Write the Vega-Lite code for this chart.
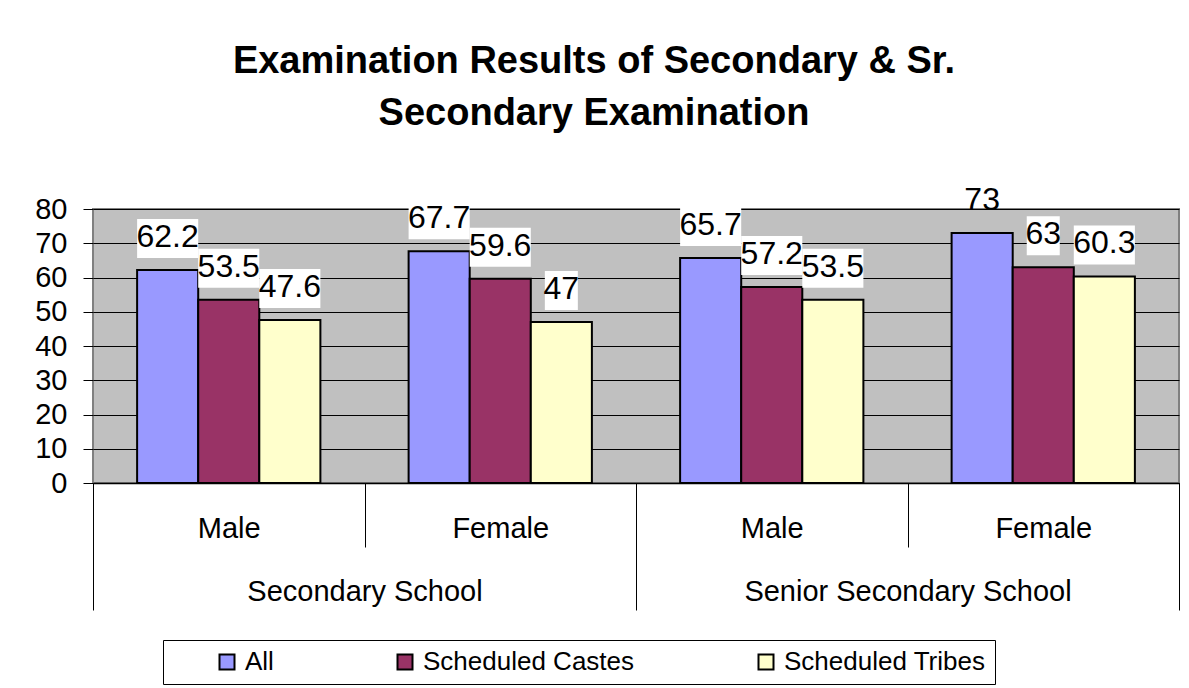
{
  "$schema": "https://vega.github.io/schema/vega-lite/v6.json",
  "width": 1086,
  "height": 274,
  "autosize": {"type": "none"},
  "padding": {"left": 93, "top": 209, "right": 10, "bottom": 205},
  "background": "white",
  "title": {
    "text": ["Examination Results of Secondary & Sr.", "Secondary Examination"],
    "fontSize": 38,
    "font": "Liberation Sans",
    "fontWeight": "bold",
    "color": "black",
    "anchor": "middle",
    "dx": -42,
    "lineHeight": 52,
    "offset": 13,
    "baseline": "bottom"
  },
  "config": {
    "font": "Liberation Sans",
    "view": {"fill": "#C0C0C0", "stroke": "#808080", "strokeWidth": 2}
  },
  "data": {
    "values": [
      {"school": "Secondary School", "gender": "Male", "cat": "Secondary School|Male", "series": "All", "value": 62.2},
      {"school": "Secondary School", "gender": "Male", "cat": "Secondary School|Male", "series": "Scheduled Castes", "value": 53.5},
      {"school": "Secondary School", "gender": "Male", "cat": "Secondary School|Male", "series": "Scheduled Tribes", "value": 47.6},
      {"school": "Secondary School", "gender": "Female", "cat": "Secondary School|Female", "series": "All", "value": 67.7},
      {"school": "Secondary School", "gender": "Female", "cat": "Secondary School|Female", "series": "Scheduled Castes", "value": 59.6},
      {"school": "Secondary School", "gender": "Female", "cat": "Secondary School|Female", "series": "Scheduled Tribes", "value": 47},
      {"school": "Senior Secondary School", "gender": "Male", "cat": "Senior Secondary School|Male", "series": "All", "value": 65.7},
      {"school": "Senior Secondary School", "gender": "Male", "cat": "Senior Secondary School|Male", "series": "Scheduled Castes", "value": 57.2},
      {"school": "Senior Secondary School", "gender": "Male", "cat": "Senior Secondary School|Male", "series": "Scheduled Tribes", "value": 53.5},
      {"school": "Senior Secondary School", "gender": "Female", "cat": "Senior Secondary School|Female", "series": "All", "value": 73},
      {"school": "Senior Secondary School", "gender": "Female", "cat": "Senior Secondary School|Female", "series": "Scheduled Castes", "value": 63},
      {"school": "Senior Secondary School", "gender": "Female", "cat": "Senior Secondary School|Female", "series": "Scheduled Tribes", "value": 60.3}
    ]
  },
  "layer": [
    {
      "encoding": {
        "x": {
          "field": "cat",
          "type": "nominal",
          "sort": ["Secondary School|Male", "Secondary School|Female", "Senior Secondary School|Male", "Senior Secondary School|Female"],
          "scale": {"type": "band", "paddingInner": 0, "paddingOuter": 0},
          "axis": {
            "title": null,
            "orient": "bottom",
            "labelExpr": "split(datum.label, '|')[1]",
            "labelAngle": 0,
            "tickBand": "extent",
            "tickSize": 64,
            "tickColor": "black",
            "tickWidth": 1,
            "domainColor": "black",
            "domainWidth": 1.5,
            "labelFontSize": 29,
            "labelColor": "black",
            "labelPadding": -33,
            "labelBaseline": "top",
            "labelLimit": 600,
            "grid": false
          }
        },
        "xOffset": {
          "field": "series",
          "type": "nominal",
          "sort": ["All", "Scheduled Castes", "Scheduled Tribes"],
          "scale": {"paddingInner": 0, "paddingOuter": 0.722}
        },
        "y": {
          "field": "value",
          "type": "quantitative",
          "scale": {"domain": [0, 80], "nice": false},
          "axis": {
            "title": null,
            "values": [0, 10, 20, 30, 40, 50, 60, 70, 80],
            "grid": true,
            "gridColor": "black",
            "gridWidth": 1,
            "tickColor": "black",
            "tickSize": 10,
            "domain": false,
            "labelFontSize": 29,
            "labelColor": "black",
            "labelPadding": 16
          }
        }
      },
      "layer": [
        {
          "mark": {"type": "bar", "stroke": "black", "strokeWidth": 2},
          "encoding": {
            "color": {
              "field": "series",
              "type": "nominal",
              "scale": {"domain": ["All", "Scheduled Castes", "Scheduled Tribes"], "range": ["#9999FF", "#993366", "#FFFFCC"]},
              "legend": {
                "title": " ",
                "titleOrient": "left",
                "titlePadding": 42,
                "titleFontSize": 11,
                "orient": "none",
                "legendX": 70,
                "legendY": 431,
                "direction": "horizontal",
                "columns": 3,
                "columnPadding": 118,
                "symbolType": "square",
                "symbolSize": 225,
                "symbolStrokeColor": "black",
                "symbolStrokeWidth": 2,
                "symbolOpacity": 1,
                "labelFontSize": 26,
                "labelColor": "black",
                "labelOffset": 5,
                "labelLimit": 400,
                "strokeColor": "black",
                "fillColor": "white",
                "padding": 9
              }
            }
          }
        },
        {
          "transform": [{"filter": "datum.value % 1 != 0"}],
          "mark": {"type": "bar", "color": "white", "fill": "white", "yOffset": -12, "y2Offset": -51},
          "encoding": {"y2": {"field": "value"}}
        },
        {
          "transform": [{"filter": "datum.value % 1 == 0 && datum.value < 70"}],
          "mark": {"type": "bar", "color": "white", "fill": "white", "width": 33, "yOffset": -12, "y2Offset": -51},
          "encoding": {"y2": {"field": "value"}}
        },
        {
          "mark": {"type": "text", "baseline": "alphabetic", "dy": -23, "fontSize": 32, "color": "black"},
          "encoding": {"text": {"field": "value", "type": "quantitative", "format": ".3~g"}}
        }
      ]
    },
    {
      "mark": {"type": "point", "opacity": 0},
      "encoding": {
        "x": {
          "field": "school",
          "type": "nominal",
          "sort": ["Secondary School", "Senior Secondary School"],
          "scale": {"type": "band", "paddingInner": 0, "paddingOuter": 0},
          "axis": {
            "title": null,
            "orient": "bottom",
            "labelAngle": 0,
            "tickBand": "extent",
            "tickSize": 127,
            "tickColor": "black",
            "tickWidth": 1,
            "domain": false,
            "labelFontSize": 29,
            "labelColor": "black",
            "labelPadding": -33,
            "labelBaseline": "top",
            "labelLimit": 600,
            "grid": false
          }
        }
      }
    }
  ],
  "resolve": {"scale": {"x": "independent"}, "axis": {"x": "independent"}}
}
